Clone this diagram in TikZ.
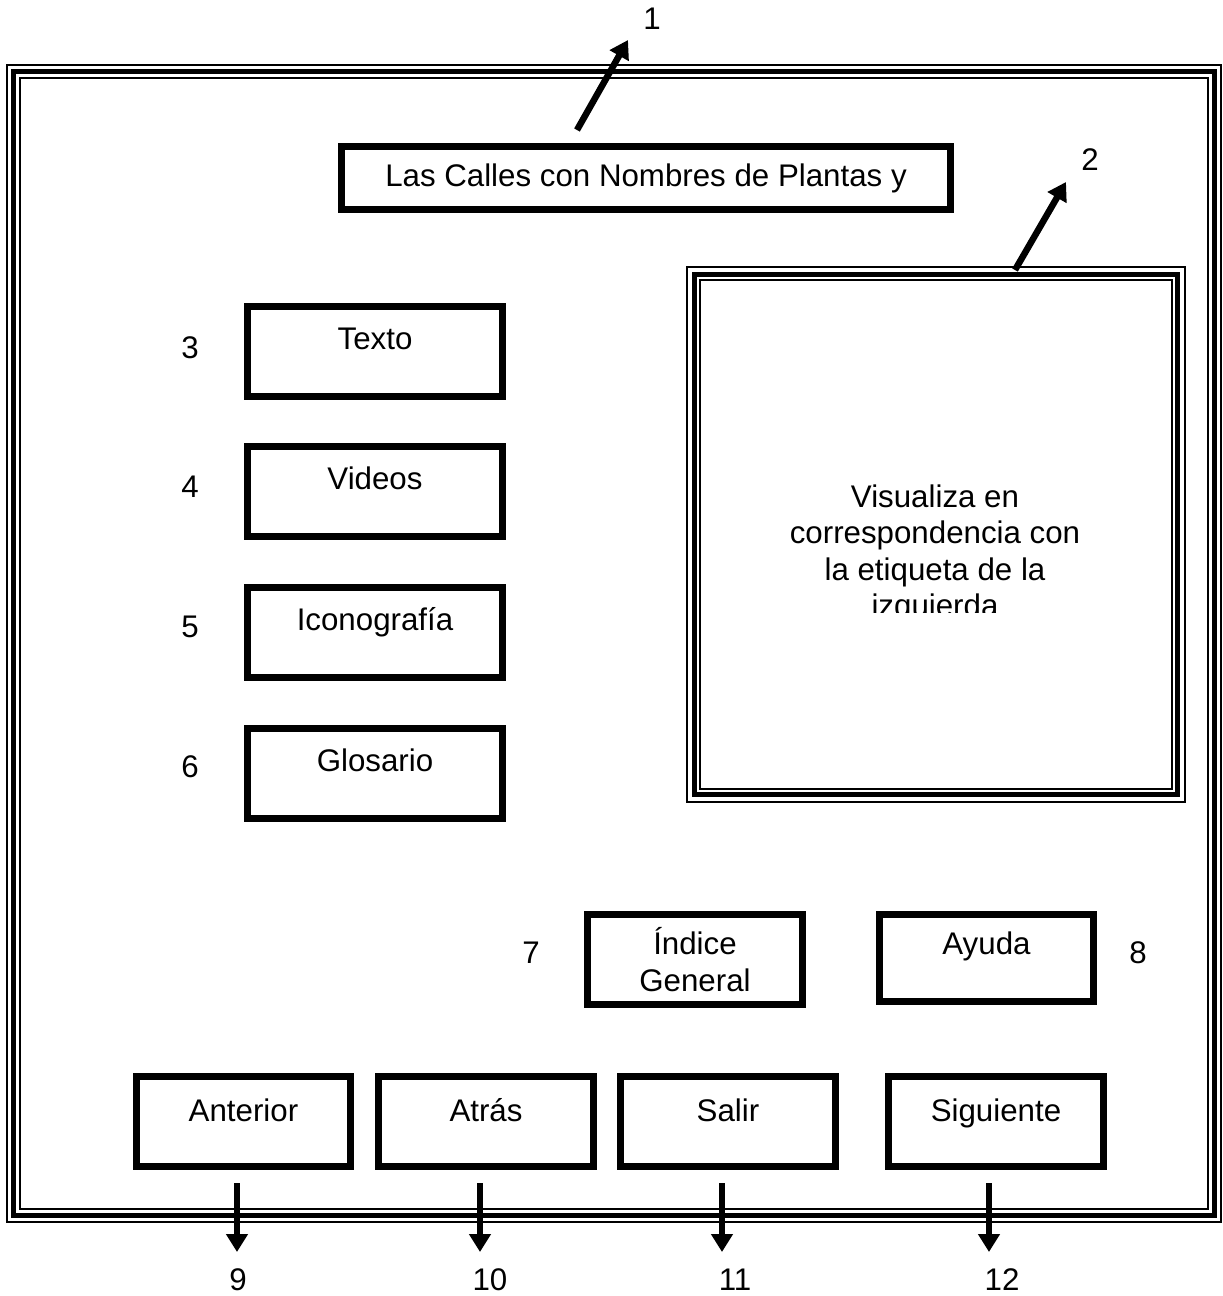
\documentclass[tikz,border=0pt]{standalone}
\usepackage{fontspec}
\setmainfont{Liberation Sans}
\usetikzlibrary{arrows.meta, positioning}
\newcommand{\diafont}{\fontsize{17.8}{20.7}\selectfont}
\tikzset{
    btn/.style={draw, line width=0.14cm, minimum width=4.3cm, minimum height=1.8cm, font=\diafont, text height=0.45cm, text depth=0.5cm, inner sep=0pt},
    sidebtn/.style={btn, minimum width=5.1cm},
    num/.style={font=\diafont, inner sep=0pt},
    arr/.style={-{Triangle[length=0.36cm, width=0.42cm]}, line width=0.13cm},
    thinframe/.style={line width=0.03cm},
    thickframe/.style={line width=0.1cm},
    innerframe/.style={line width=0.04cm}
}

\begin{document}
\begin{tikzpicture}[x=0.02cm, y=-0.02cm]
    \useasboundingbox (0,0) rectangle (1223,1296);

    % outer screen frame
    \draw[thinframe] (7,65) rectangle (1221,1222);
    \draw[thickframe] (13.5,71.5) rectangle (1214.5,1215.5);
    \draw[innerframe] (20,78) rectangle (1208,1209);

    % title
    \node[btn, minimum width=12.18cm, minimum height=1.26cm, text depth=0.1cm] (title) at (646,178) {Las Calles con Nombres de Plantas y};
    \node[num] (n1) at (652,19) {1};
    \coordinate (a1s) at (577,130);
    \coordinate (a1e) at (628,40);
    \draw[arr] (a1s) -- (a1e);

    % picture area
    \draw[thinframe] (687,267) rectangle (1185,802);
    \draw[thickframe] (694.5,274.5) rectangle (1177.5,794.5);
    \draw[innerframe] (700,280) rectangle (1172,789);
    \begin{scope}
      \clip (700,280) rectangle (1172,612);
      \node[font=\diafont, align=center, inner sep=0pt] (vis) at (935,554) {Visualiza en\\correspondencia con\\la etiqueta de la\\izquierda};
    \end{scope}
    \node[num] (n2) at (1090,160) {2};
    \coordinate (a2s) at (1015,270);
    \coordinate (a2e) at (1066,182);
    \draw[arr] (a2s) -- (a2e);

    % left buttons
    \node[sidebtn] (texto) at (375,351) {Texto};
    \node[sidebtn] (videos) at (375,491) {Videos};
    \node[sidebtn] (icono) at (375,632) {Iconografía};
    \node[sidebtn] (glosario) at (375,773) {Glosario};
    \node[num] (n3) at (190,348) {3};
    \node[num] (n4) at (190,487) {4};
    \node[num] (n5) at (190,627) {5};
    \node[num] (n6) at (190,767) {6};

    % index and help
    \node[btn, align=center, text height=, text depth=] (indice) at (695,959.5) {Índice\\General};
    \node[btn, minimum height=1.74cm, text depth=0.6cm] (ayuda) at (986.5,958) {Ayuda};
    \node[num] (n7) at (531,953) {7};
    \node[num] (n8) at (1138,953) {8};

    % navigation
    \node[btn, text depth=0.44cm] (anterior) at (243.5,1121.5) {Anterior};
    \node[btn, text depth=0.44cm] (atras) at (486,1121.5) {Atrás};
    \node[btn, text depth=0.44cm] (salir) at (728,1121.5) {Salir};
    \node[btn, text depth=0.44cm] (siguiente) at (996,1121.5) {Siguiente};
    \node[num] (n9) at (238,1280) {9};
    \node[num] (n10) at (490,1280) {10};
    \node[num] (n11) at (735,1280) {11};
    \node[num] (n12) at (1002,1280) {12};
    \coordinate (d9) at (237,1252);
    \coordinate (d10) at (480,1252);
    \coordinate (d11) at (722,1252);
    \coordinate (d12) at (989,1252);
    \draw[arr, shorten <=0.26cm] (anterior.south -| d9) -- (d9);
    \draw[arr, shorten <=0.26cm] (atras.south -| d10) -- (d10);
    \draw[arr, shorten <=0.26cm] (salir.south -| d11) -- (d11);
    \draw[arr, shorten <=0.26cm] (siguiente.south -| d12) -- (d12);
\end{tikzpicture}
\end{document}
